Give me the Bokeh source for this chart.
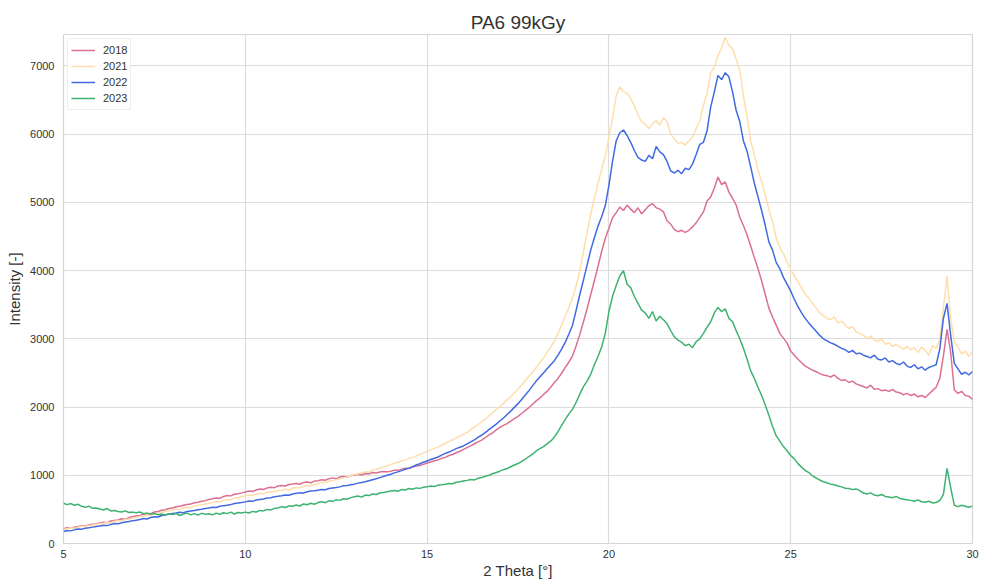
from bokeh.plotting import figure
from bokeh.models import Range1d, Legend, LegendItem, FixedTicker
from bokeh.embed import file_html
from bokeh.resources import INLINE

# 2 Theta grid (degrees), 0.1 step from 5 to 30
two_theta = [round(5 + i * 0.1, 1) for i in range(251)]

series_names = ["2018", "2021", "2022", "2023"]

int_2018 = [
    215, 232, 225, 240, 248, 262, 255, 275, 282, 290,
    300, 312, 305, 330, 338, 345, 362, 355, 380, 392,
    405, 412, 428, 440, 436, 462, 470, 488, 495, 512,
    520, 538, 545, 560, 572, 580, 598, 605, 620, 628,
    645, 655, 668, 662, 690, 702, 698, 722, 730, 742,
    755, 770, 762, 785, 800, 792, 815, 825, 818, 842,
    850, 842, 865, 872, 880, 868, 895, 902, 890, 915,
    920, 935, 928, 950, 962, 948, 975, 982, 970, 995,
    1000, 1015, 1005, 1025, 1018, 1040, 1032, 1048, 1055, 1050,
    1060, 1075, 1072, 1090, 1102, 1098, 1120, 1135, 1142, 1160,
    1180, 1195, 1212, 1225, 1248, 1262, 1290, 1305, 1330, 1352,
    1380, 1405, 1430, 1462, 1490, 1515, 1550, 1592, 1620, 1665,
    1700, 1732, 1758, 1795, 1830, 1862, 1905, 1950, 1990, 2040,
    2090, 2130, 2185, 2230, 2290, 2360, 2420, 2495, 2580, 2660,
    2750, 2900, 3065, 3250, 3440, 3650, 3850, 4060, 4280, 4470,
    4620, 4775, 4850, 4930, 4880, 4960, 4900, 4850, 4920, 4830,
    4890, 4950, 4980, 4920, 4900, 4860, 4730, 4680, 4600, 4570,
    4590, 4560, 4590, 4640, 4700, 4780, 4860, 5020, 5080, 5210,
    5370, 5260, 5300, 5150, 5060, 4960, 4780, 4660, 4520, 4360,
    4190, 4030, 3850, 3650, 3450, 3320, 3200, 3080, 3010, 2940,
    2820, 2760, 2700, 2650, 2600, 2570, 2540, 2520, 2490, 2470,
    2460, 2440, 2470, 2420, 2390, 2400, 2360, 2380, 2340, 2320,
    2300, 2280, 2320, 2260, 2270, 2240, 2250, 2230, 2260, 2220,
    2210, 2180, 2200, 2170, 2190, 2150, 2170, 2140, 2190, 2240,
    2290, 2420, 2750, 3140, 2800, 2250, 2200, 2230, 2170, 2160,
    2110,
]

int_2021 = [
    205, 218, 228, 222, 240, 252, 248, 265, 272, 282,
    290, 298, 312, 305, 325, 335, 332, 352, 360, 372,
    380, 395, 402, 418, 412, 435, 445, 458, 470, 478,
    490, 505, 498, 520, 532, 528, 548, 560, 565, 580,
    590, 602, 615, 608, 632, 645, 640, 665, 672, 688,
    700, 712, 705, 725, 735, 728, 748, 755, 762, 775,
    780, 795, 788, 810, 822, 815, 838, 850, 845, 868,
    880, 895, 890, 912, 925, 935, 948, 962, 975, 992,
    1010, 1020, 1038, 1050, 1045, 1075, 1090, 1102, 1125, 1140,
    1160, 1175, 1192, 1210, 1222, 1248, 1262, 1285, 1305, 1325,
    1350, 1372, 1395, 1412, 1440, 1465, 1492, 1520, 1548, 1575,
    1600, 1630, 1668, 1705, 1740, 1785, 1825, 1870, 1915, 1962,
    2010, 2055, 2105, 2150, 2210, 2265, 2320, 2385, 2450, 2510,
    2580, 2650, 2720, 2800, 2880, 2970, 3080, 3200, 3330, 3460,
    3600, 3780, 3995, 4280, 4560, 4825, 5060, 5280, 5480, 5680,
    5950, 6230, 6560, 6690, 6620, 6600, 6520, 6420, 6280, 6180,
    6150, 6080, 6150, 6200, 6130, 6240, 6180, 6000, 5930, 5860,
    5880, 5840, 5900, 5960, 6080, 6200, 6420, 6600, 6900, 6980,
    7150, 7260, 7420, 7300, 7250, 7100, 6940, 6560, 6250, 5900,
    5700, 5480, 5300, 5100, 4900, 4720, 4480, 4340, 4250, 4120,
    4020, 3920, 3840, 3750, 3650, 3600, 3520, 3450, 3380, 3340,
    3300, 3280, 3320, 3230, 3260, 3200, 3150, 3180, 3100, 3080,
    3050, 3010, 3040, 2980, 2960, 3000, 2920, 2940, 2890, 2920,
    2880, 2850, 2890, 2840, 2870, 2800, 2880, 2830, 2760, 2900,
    2860, 3000, 3450, 3920, 3300, 2950, 2880, 2780, 2820, 2740,
    2820,
]

int_2022 = [
    175, 190, 185, 200, 212, 208, 225, 232, 240, 248,
    255, 268, 262, 280, 292, 288, 305, 315, 322, 335,
    340, 352, 365, 360, 380, 392, 388, 410, 418, 432,
    440, 448, 458, 452, 470, 478, 485, 495, 502, 512,
    520, 532, 528, 545, 555, 562, 570, 585, 592, 600,
    610, 622, 618, 638, 645, 652, 668, 672, 685, 692,
    700, 712, 708, 725, 735, 742, 740, 758, 768, 772,
    780, 792, 788, 805, 815, 822, 830, 845, 850, 862,
    870, 885, 895, 905, 920, 935, 948, 965, 982, 1000,
    1015, 1035, 1050, 1068, 1088, 1105, 1125, 1150, 1168, 1190,
    1210, 1230, 1250, 1268, 1295, 1320, 1340, 1365, 1390, 1410,
    1430, 1460, 1490, 1520, 1555, 1590, 1625, 1668, 1710, 1750,
    1795, 1840, 1890, 1940, 1995, 2050, 2110, 2175, 2240, 2310,
    2380, 2440, 2500, 2560, 2620, 2680, 2760, 2850, 2950, 3070,
    3200, 3420, 3650, 3860, 4080, 4300, 4480, 4650, 4790, 4950,
    5250, 5600, 5900, 6020, 6060, 5980, 5880, 5760, 5660, 5620,
    5600, 5690, 5640, 5820, 5740, 5700, 5600, 5460, 5430, 5470,
    5420, 5500, 5480, 5560, 5700, 5850, 5880, 6050, 6400, 6620,
    6860, 6800, 6900, 6840, 6620, 6350, 6180, 5900, 5750, 5520,
    5280, 5080, 4880, 4660, 4420, 4300, 4120, 4030, 3900, 3800,
    3700, 3580, 3470, 3380, 3300, 3230, 3170, 3110, 3050, 3000,
    2970, 2940, 2920, 2890, 2860, 2840, 2800, 2830, 2780, 2790,
    2760, 2740, 2720, 2760, 2700, 2690, 2720, 2660, 2680, 2640,
    2620, 2660, 2600, 2580, 2620, 2560, 2590, 2540, 2580, 2600,
    2620, 2850, 3300, 3520, 3050, 2640, 2560, 2480, 2510, 2470,
    2520,
]

int_2023 = [
    590, 570, 585, 560, 575, 545, 530, 548, 515, 520,
    505, 490, 512, 478, 485, 470, 462, 478, 455, 460,
    450, 462, 438, 445, 428, 440, 420, 432, 415, 438,
    425, 440, 410, 432, 445, 420, 438, 415, 442, 428,
    435, 420, 445, 428, 450, 438, 460, 432, 455, 448,
    460, 448, 470, 462, 485, 478, 500, 492, 515, 520,
    540, 528, 552, 545, 565, 550, 580, 568, 590, 575,
    600, 612, 598, 625, 618, 640, 632, 655, 648, 672,
    686, 695, 680, 710, 702, 725, 718, 740, 748, 758,
    770, 778, 765, 790, 785, 805, 795, 815, 808, 825,
    830, 842, 835, 855, 862, 870, 880, 875, 898, 905,
    915, 925, 938, 932, 955, 968, 985, 1000, 1022, 1040,
    1060, 1082, 1098, 1125, 1150, 1172, 1205, 1238, 1275, 1310,
    1356, 1390, 1420, 1460, 1500, 1560, 1640, 1730, 1820, 1900,
    1970, 2070, 2190, 2300, 2380, 2480, 2620, 2740, 2880, 3080,
    3400, 3620, 3780, 3920, 4000, 3800, 3750, 3620, 3520, 3420,
    3380, 3300, 3400, 3260, 3330, 3280, 3220, 3120, 3030, 2980,
    2950, 2900, 2920, 2870, 2960, 3000, 3080, 3170, 3250, 3380,
    3460, 3400, 3440, 3300, 3250, 3120, 3000, 2860, 2700, 2530,
    2420, 2290, 2170, 2030, 1880, 1720, 1580, 1500, 1420, 1360,
    1290, 1240, 1170, 1120, 1070, 1040, 990, 960, 930, 905,
    890, 870, 860, 842, 830, 810, 805, 790, 800, 775,
    740, 725, 742, 710, 700, 718, 690, 682, 670, 690,
    660, 650, 640, 632, 620, 640, 612, 605, 620, 595,
    600, 630, 720, 1100, 820, 560, 540, 560, 545, 530,
    550,
]

x_ticks = [5, 10, 15, 20, 25, 30]
y_ticks = [0, 1000, 2000, 3000, 4000, 5000, 6000, 7000]

colors = ["palevioletred", "navajowhite", "royalblue", "mediumseagreen"]
FONT = "Liberation Sans"

p = figure(
    width=981, height=581,
    x_range=Range1d(5, 30), y_range=Range1d(0, 7460),
    output_backend="svg", toolbar_location=None,
    min_border_left=63, min_border_right=9, min_border_top=34, min_border_bottom=38,
    background_fill_color="white", border_fill_color="white",
)

p.title.text = "PA6 99kGy"
p.title.align = "center"
p.title.text_font = FONT
p.title.text_font_size = "19px"
p.title.text_font_style = "normal"
p.title.text_color = "#333333"
p.title.offset = 0
p.title.standoff = 3

p.outline_line_color = "#d6d6d6"
p.outline_line_width = 1.2

for ax in (p.xaxis[0], p.yaxis[0]):
    ax.axis_line_color = None
    ax.major_tick_line_color = None
    ax.minor_tick_line_color = None
    ax.major_tick_in = 0
    ax.major_tick_out = 0
    ax.minor_tick_in = 0
    ax.minor_tick_out = 0
    ax.major_label_text_font = FONT
    ax.major_label_text_font_size = "11px"
    ax.major_label_text_color = "#333333"
    ax.axis_label_text_font = FONT
    ax.axis_label_text_font_size = "15px"
    ax.axis_label_text_font_style = "normal"
    ax.axis_label_text_color = "#333333"

p.xaxis.ticker = FixedTicker(ticks=x_ticks)
p.yaxis.ticker = FixedTicker(ticks=y_ticks)
p.xaxis.axis_label = "2 Theta [°]"
p.yaxis.axis_label = "Intensity [-]"
p.xaxis.major_label_standoff = 6
p.yaxis.major_label_standoff = 9
p.xaxis.axis_label_standoff = 1
p.yaxis.axis_label_standoff = 4

p.xgrid.grid_line_color = "#dcdcdc"
p.ygrid.grid_line_color = "#dcdcdc"
p.xgrid.grid_line_width = 1.2
p.ygrid.grid_line_width = 1.2

data = [int_2018, int_2021, int_2022, int_2023]
items = []
for name, ys, c in zip(series_names, data, colors):
    r = p.line(two_theta, ys, line_color=c, line_width=1.5)
    items.append(LegendItem(label=name, renderers=[r]))

legend = Legend(
    items=items, location="top_left",
    label_text_font=FONT, label_text_font_size="11px", label_text_color="#333333",
    glyph_width=24, glyph_height=16, label_height=16, spacing=0,
    padding=3, margin=4, border_line_color="#dddddd", border_line_width=1,
    background_fill_alpha=0.9, label_standoff=8,
)
p.add_layout(legend)

open("out.html", "w").write(file_html(p, INLINE))
